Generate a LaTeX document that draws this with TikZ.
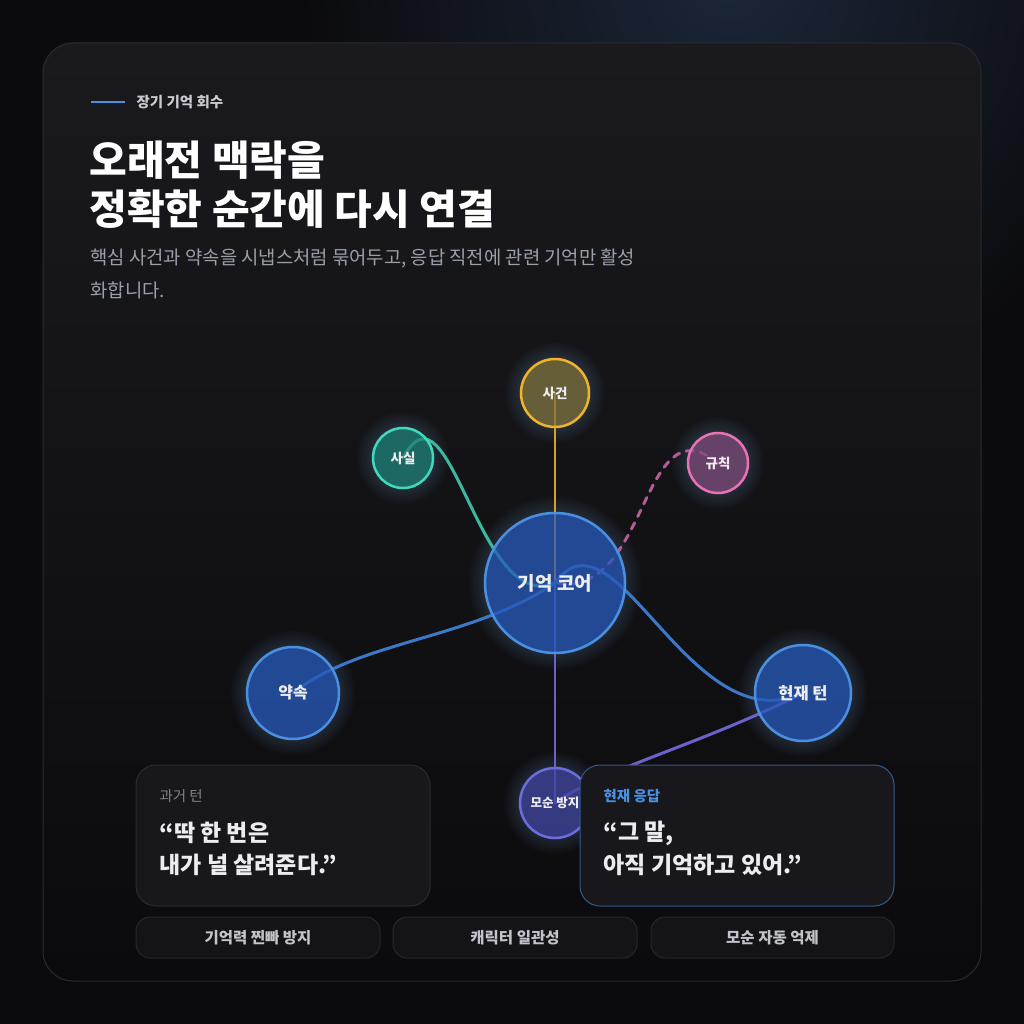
\documentclass[tikz,border=0pt]{standalone}
\usepackage{fontspec}
\setmainfont{Noto Sans CJK KR}
\usepackage{xcolor}
\usetikzlibrary{positioning}

\definecolor{pagebg}{HTML}{0B0B0E}
\definecolor{glowblue}{HTML}{1B2638}
\definecolor{cardtop}{HTML}{1A1A1E}
\definecolor{cardmid}{HTML}{0F0F12}
\definecolor{cardbot}{HTML}{0B0B0D}
\definecolor{cardline}{HTML}{2A2A31}
\definecolor{accent}{HTML}{4A90E2}
\definecolor{eyebrow}{HTML}{C9CAD2}
\definecolor{subtext}{HTML}{9A9FAA}
\definecolor{goldline}{HTML}{F0B429}
\definecolor{goldfill}{HTML}{80703A}
\definecolor{tealline}{HTML}{40D9BC}
\definecolor{tealfill}{HTML}{1C8074}
\definecolor{pinkline}{HTML}{E872B4}
\definecolor{pinkfill}{HTML}{804A7C}
\definecolor{coreline}{HTML}{4A90E2}
\definecolor{corefill}{HTML}{2456BA}
\definecolor{violetline}{HTML}{6C6CDC}
\definecolor{violetfill}{HTML}{4042A0}
\definecolor{halo}{HTML}{8FB4E8}
\definecolor{linkblue}{HTML}{3D78C8}
\definecolor{linkteal}{HTML}{3CB8A0}
\definecolor{linkpink}{HTML}{B45A9A}
\definecolor{linkviolet}{HTML}{6A62C8}
\definecolor{linkgold}{HTML}{D4A22A}
\definecolor{quotebg}{HTML}{18181C}
\definecolor{nowline}{HTML}{35588A}
\definecolor{pillbg}{HTML}{141417}
\definecolor{pillline}{HTML}{26262C}
\definecolor{pilltext}{HTML}{C2C3CB}
\definecolor{mutetext}{HTML}{7E808A}
\definecolor{bright}{HTML}{EDEDF0}

\pgfdeclarelayer{bg}
\pgfdeclarelayer{edges}
\pgfsetlayers{bg,edges,main}

\tikzset{
  memnode/.style={circle, draw, line width=2.5pt, inner sep=0pt, text=bright,
    fill opacity=0.72, text opacity=1, font=\bfseries\fontsize{13.5}{15}\selectfont},
  link/.style={line width=3pt, line cap=round},
  quotecard/.style={rounded corners=20pt, fill=quotebg, line width=1pt},
  pill/.style={rounded corners=14pt, draw=pillline, fill=pillbg, line width=1pt},
  pilllabel/.style={text=pilltext, font=\bfseries\fontsize{15.5}{17}\selectfont},
  quote/.style={anchor=west, text=bright, font=\bfseries\fontsize{23}{27}\selectfont}
}

\begin{document}
\begin{tikzpicture}[x=1pt, y=-1pt]
  \useasboundingbox (0,0) rectangle (1024,1024);

  \begin{pgfonlayer}{bg}
    \fill[pagebg] (0,0) rectangle (1024,1024);
    \begin{scope}
      \clip (0,0) rectangle (1024,1024);
      \shade[inner color=glowblue, outer color=pagebg] (730,-20) circle [radius=430pt];
    \end{scope}
    \draw[cardline, line width=1pt, rounded corners=30pt, top color=cardtop, middle color=cardmid, bottom color=cardbot]
      (43,43) rectangle (981,981);
  \end{pgfonlayer}

  % heading
  \coordinate (rule start) at (91,102);
  \coordinate (rule end) at (125,102);
  \draw[accent, line width=2pt] (rule start) -- (rule end);
  \node[anchor=west, text=eyebrow, font=\bfseries\fontsize{14.5}{16}\selectfont] (kicker) at (133,102) {장기 기억 회수};
  \node[anchor=west, text=white, font=\bfseries\fontsize{41}{48}\selectfont] (title one) at (86,160) {오래전 맥락을};
  \node[anchor=west, text=white, font=\bfseries\fontsize{41}{48}\selectfont] (title two) at (86,209) {정확한 순간에 다시 연결};
  \node[anchor=west, text=subtext, font=\fontsize{18.8}{22}\selectfont] (sub one) at (87,258) {핵심 사건과 약속을 시냅스처럼 묶어두고, 응답 직전에 관련 기억만 활성};
  \node[anchor=west, text=subtext, font=\fontsize{18.8}{22}\selectfont] (sub two) at (87,290) {화합니다.};

  % memory graph
  \node[memnode, draw=goldline, fill=goldfill, minimum size=68pt] (event) at (555,393) {사건};
  \node[memnode, draw=tealline, fill=tealfill, minimum size=60pt] (fact) at (403,458) {사실};
  \node[memnode, draw=pinkline, fill=pinkfill, minimum size=60pt] (rule) at (718,463) {규칙};
  \node[memnode, draw=coreline, fill=corefill, minimum size=140pt, font=\bfseries\fontsize{19}{21}\selectfont] (core) at (555,583) {기억 코어};
  \node[memnode, draw=coreline, fill=corefill, minimum size=92pt, font=\bfseries\fontsize{16}{18}\selectfont] (promise) at (293,693) {약속};
  \node[memnode, draw=coreline, fill=corefill, minimum size=96pt, font=\bfseries\fontsize{16.5}{18}\selectfont] (turn) at (803,693) {현재 턴};
  \node[memnode, draw=violetline, fill=violetfill, minimum size=70pt, font=\bfseries\fontsize{12.5}{14}\selectfont] (guard) at (555,803) {모순 방지};

  \begin{pgfonlayer}{edges}
    \foreach \n/\r in {event/34, fact/30, rule/30, core/70, promise/46, turn/48, guard/35}
      \foreach \k in {2,4,...,16}
        \fill[halo, opacity=0.022] (\n.center) circle [radius={(\r+\k)*1pt}];
    \draw[link, linkgold, line width=2.5pt] (event.center) -- (core.center);
    \draw[link, linkviolet, line width=2.5pt] (core.center) -- (guard.center);
    \draw[link, linkteal] (fact.center) .. controls (450,370) and (478,616) .. (core.center);
    \draw[link, linkpink, dashed, dash pattern=on 7pt off 7pt] (rule.center) .. controls (640,400) and (650,600) .. (core.center);
    \draw[link, linkblue] (promise.center) .. controls (360,640) and (470,640) .. (core.center);
    \draw[link, linkblue] (core.center) .. controls (615,500) and (690,745) .. (turn.center);
    \draw[link, linkviolet] (guard.center) .. controls (600,770) and (700,745) .. (turn.center);
  \end{pgfonlayer}

  % quote cards
  \draw[quotecard, draw=cardline] (136,765) rectangle (430,906);
  \node[anchor=west, text=mutetext, font=\fontsize{14.5}{16}\selectfont] (past label) at (156,796) {과거 턴};
  \node[quote] (past one) at (156,833) {“딱 한 번은};
  \node[quote] (past two) at (156,865) {내가 널 살려준다.”};

  \draw[quotecard, draw=nowline] (580,765) rectangle (894,906);
  \node[anchor=west, text=accent, font=\bfseries\fontsize{14.5}{16}\selectfont] (now label) at (600,796) {현재 응답};
  \node[quote] (now one) at (600,833) {“그 말,};
  \node[quote] (now two) at (600,865) {아직 기억하고 있어.”};

  % feature pills
  \draw[pill] (136,917) rectangle (380,958);
  \node[pilllabel] (pill one) at (258,937.5) {기억력 찐빠 방지};
  \draw[pill] (393,917) rectangle (637,958);
  \node[pilllabel] (pill two) at (515,937.5) {캐릭터 일관성};
  \draw[pill] (651,917) rectangle (894,958);
  \node[pilllabel] (pill three) at (772.5,937.5) {모순 자동 억제};
\end{tikzpicture}
\end{document}
